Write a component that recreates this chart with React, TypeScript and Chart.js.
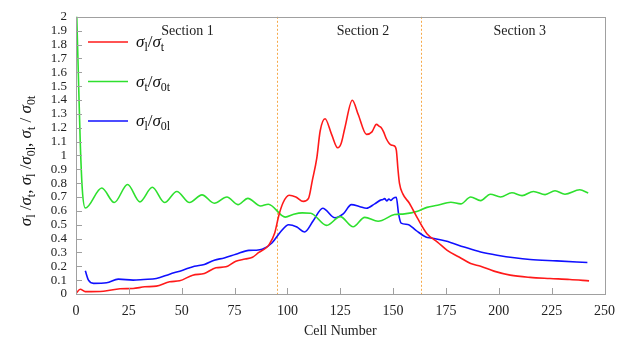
import React, { useEffect, useRef } from "react";
import { Chart, registerables } from "chart.js";

Chart.register(...registerables);

const redX = [0, 2, 4.4, 13, 20.8, 27, 32.5, 38, 44.3, 49, 55.2, 60.7, 66.2, 70.9, 75.6, 80, 83.5, 86.5, 89.7, 91.5, 94, 96, 98, 100.8, 104, 107.5, 110, 111.8, 113.9, 115.5, 117.8, 120.9, 123.8, 125.5, 127.2, 130.7, 133.5, 137.4, 140, 142.1, 143.5, 144.4, 145.5, 146.8, 148, 149.1, 150.3, 151.5, 152.3, 153, 154.6, 157.7, 161.6, 166, 171, 175.6, 181.2, 186.7, 191.4, 197.7, 205.4, 214.8, 224.2, 233.6, 242.7];
const redY = [0.005, 0.034, 0.017, 0.02, 0.038, 0.04, 0.052, 0.057, 0.088, 0.095, 0.136, 0.148, 0.189, 0.196, 0.237, 0.252, 0.265, 0.3, 0.33, 0.36, 0.44, 0.57, 0.66, 0.712, 0.7, 0.668, 0.69, 0.82, 0.98, 1.176, 1.264, 1.152, 1.055, 1.09, 1.2, 1.398, 1.295, 1.152, 1.17, 1.224, 1.21, 1.2, 1.17, 1.12, 1.09, 1.075, 1.07, 1.04, 0.9, 0.8, 0.722, 0.655, 0.545, 0.435, 0.375, 0.315, 0.267, 0.22, 0.2, 0.165, 0.136, 0.12, 0.112, 0.105, 0.095];

const greenX = [0, 1, 2, 3, 4.4, 12.2, 18.1, 24.4, 30.2, 36.1, 41.9, 47.7, 53.7, 59.6, 65.4, 71.4, 76.6, 81.3, 87.3, 91, 99, 103, 107, 111, 118.6, 125, 131.1, 136.6, 142.9, 150.7, 155.4, 161.6, 166, 171, 177.3, 182, 186.7, 191.4, 196, 200.8, 206.2, 211, 216.4, 221.9, 226.6, 231.3, 238.3, 242.3];
const greenY = [2.2, 1.65, 1.1, 0.75, 0.62, 0.765, 0.66, 0.79, 0.665, 0.77, 0.66, 0.74, 0.66, 0.715, 0.655, 0.7, 0.645, 0.69, 0.635, 0.648, 0.555, 0.575, 0.585, 0.583, 0.495, 0.558, 0.485, 0.553, 0.525, 0.573, 0.578, 0.597, 0.625, 0.64, 0.662, 0.65, 0.7, 0.674, 0.72, 0.7, 0.73, 0.71, 0.74, 0.717, 0.745, 0.72, 0.752, 0.729];

const blueX = [4.4, 5.9, 8.3, 14.5, 20, 27, 32, 38, 44.3, 50.5, 56, 60.7, 65.4, 70.1, 75.6, 81.8, 85, 88.1, 92.8, 96.7, 100.6, 104.5, 108.1, 112.3, 116.7, 122.5, 126.4, 130.3, 134.3, 137.4, 141.3, 144.4, 145, 146, 147, 148, 149, 150, 151.5, 152.6, 153.8, 156.9, 160.8, 165.5, 167.9, 174.9, 183.6, 191.4, 199.2, 214.8, 227.4, 241.9];
const blueY = [0.167, 0.1, 0.077, 0.081, 0.107, 0.1, 0.105, 0.112, 0.143, 0.172, 0.2, 0.213, 0.244, 0.26, 0.287, 0.315, 0.316, 0.322, 0.37, 0.447, 0.5, 0.483, 0.447, 0.53, 0.619, 0.55, 0.578, 0.645, 0.63, 0.619, 0.65, 0.679, 0.68, 0.688, 0.672, 0.685, 0.675, 0.69, 0.698, 0.578, 0.511, 0.502, 0.459, 0.411, 0.404, 0.382, 0.339, 0.303, 0.28, 0.249, 0.239, 0.227];

const sectionBounds = [95, 163];
const sectionLabels = ["Section 1", "Section 2", "Section 3"];
const sectionLabelX = [52.7, 135.8, 209.9];

const SERIF = "'Liberation Serif', 'DejaVu Serif', serif";
const RED = "#ff1a1a";
const GREEN = "#2ee02e";
const BLUE = "#1010ff";

type Part = [string, "i" | "s" | "n"];

function partFont(kind: string, size: number) {
  if (kind === "i") return `italic ${size}px ${SERIF}`;
  if (kind === "s") return `${Math.round(size * 0.68)}px ${SERIF}`;
  return `${size}px ${SERIF}`;
}

function measureRich(ctx: CanvasRenderingContext2D, parts: Part[], size: number) {
  let w = 0;
  for (const [t, k] of parts) {
    ctx.font = partFont(k, size);
    w += ctx.measureText(t).width;
  }
  return w;
}

function drawRich(ctx: CanvasRenderingContext2D, parts: Part[], x: number, y: number, size: number) {
  let cx = x;
  ctx.textAlign = "left";
  ctx.textBaseline = "alphabetic";
  for (const [t, k] of parts) {
    ctx.font = partFont(k, size);
    const dy = k === "s" ? size * 0.25 : 0;
    ctx.fillText(t, cx, y + dy);
    cx += ctx.measureText(t).width;
  }
}

const legendParts: Part[][] = [
  [["σ", "i"], ["l", "s"], ["/", "n"], ["σ", "i"], ["t", "s"]],
  [["σ", "i"], ["t", "s"], ["/", "n"], ["σ", "i"], ["0t", "s"]],
  [["σ", "i"], ["l", "s"], ["/", "n"], ["σ", "i"], ["0l", "s"]],
];
const yTitleParts: Part[] = [
  ["σ", "i"], ["l", "s"], [" /", "n"], ["σ", "i"], ["t", "s"], [", ", "n"],
  ["σ", "i"], ["l", "s"], [" /", "n"], ["σ", "i"], ["0l", "s"], [", ", "n"],
  ["σ", "i"], ["t", "s"], [" / ", "n"], ["σ", "i"], ["0t", "s"],
];

const overlay = {
  id: "overlay",
  beforeDatasetsDraw(chart: any) {
    const { ctx, chartArea, scales } = chart;
    ctx.save();
    ctx.strokeStyle = "#f7a948";
    ctx.lineWidth = 1;
    ctx.setLineDash([2, 2]);
    for (const b of sectionBounds) {
      const px = Math.round(scales.x.getPixelForValue(b)) + 0.5;
      ctx.beginPath();
      ctx.moveTo(px, chartArea.top);
      ctx.lineTo(px, chartArea.bottom);
      ctx.stroke();
    }
    ctx.restore();
  },
  afterDraw(chart: any) {
    const { ctx, chartArea, scales } = chart;
    const { left, right, top, bottom } = chartArea;
    ctx.save();
    ctx.strokeStyle = "#a0a0a0";
    ctx.lineWidth = 1;
    ctx.setLineDash([]);
    ctx.strokeRect(Math.round(left) + 0.5, Math.round(top) + 0.5, Math.round(right - left), Math.round(bottom - top));
    ctx.beginPath();
    for (const t of scales.y.ticks) {
      const py = Math.round(scales.y.getPixelForValue(t.value)) + 0.5;
      ctx.moveTo(left, py);
      ctx.lineTo(left + 6, py);
    }
    for (const t of scales.x.ticks) {
      const px = Math.round(scales.x.getPixelForValue(t.value)) + 0.5;
      ctx.moveTo(px, bottom);
      ctx.lineTo(px, bottom - 6);
    }
    ctx.stroke();
    ctx.fillStyle = "#222";
    ctx.font = `14px ${SERIF}`;
    ctx.textAlign = "center";
    ctx.textBaseline = "middle";
    sectionLabels.forEach((s, i) => {
      ctx.fillText(s, scales.x.getPixelForValue(sectionLabelX[i]), top + 15);
    });
    const colors = [RED, GREEN, BLUE];
    const ly = [42, 81.5, 121];
    colors.forEach((c, i) => {
      ctx.strokeStyle = c;
      ctx.lineWidth = 1.6;
      ctx.beginPath();
      ctx.moveTo(88, ly[i]);
      ctx.lineTo(128, ly[i]);
      ctx.stroke();
      ctx.fillStyle = "#111";
      drawRich(ctx, legendParts[i], 136, ly[i] + 5, 17);
    });
    ctx.fillStyle = "#222";
    ctx.font = `14px ${SERIF}`;
    ctx.textAlign = "center";
    ctx.textBaseline = "middle";
    ctx.fillText("Cell Number", (left + right) / 2, 331);
    const w = measureRich(ctx, yTitleParts, 17);
    ctx.translate(31, 161);
    ctx.rotate(-Math.PI / 2);
    ctx.fillStyle = "#111";
    drawRich(ctx, yTitleParts, -w / 2, 0, 17);
    ctx.restore();
  },
};

export default function App() {
  const ref = useRef<HTMLCanvasElement>(null);
  useEffect(() => {
    if (!ref.current) return;
    const mk = (xs: number[], ys: number[]) => xs.map((x, i) => ({ x, y: ys[i] }));
    const ds = (label: string, xs: number[], ys: number[], color: string) => ({
      label,
      data: mk(xs, ys),
      borderColor: color,
      backgroundColor: color,
      borderWidth: 1.6,
      pointRadius: 0,
      cubicInterpolationMode: "monotone" as const,
      fill: false,
    });
    const chart = new Chart(ref.current, {
      type: "line",
      data: {
        datasets: [
          ds("σl/σt", redX, redY, RED),
          ds("σt/σ0t", greenX, greenY, GREEN),
          ds("σl/σ0l", blueX, blueY, BLUE),
        ],
      },
      options: {
        responsive: false,
        animation: false,
        layout: { padding: { top: 15, right: 16, left: 0, bottom: 0 } },
        plugins: { legend: { display: false }, tooltip: { enabled: false } },
        scales: {
          x: {
            type: "linear",
            min: 0,
            max: 250,
            grid: { display: false, drawTicks: false },
            border: { display: false },
            ticks: { stepSize: 25, autoSkip: false, maxRotation: 0, padding: 9, color: "#222", font: { family: SERIF, size: 14 } },
            afterFit: (s: any) => { s.height = 49; },
          },
          y: {
            min: 0,
            max: 2,
            grid: { display: false, drawTicks: false },
            border: { display: false },
            ticks: {
              stepSize: 0.1,
              autoSkip: false,
              padding: 9,
              color: "#222",
              font: { family: SERIF, size: 13 },
              callback: (v: any) => String(Number(Number(v).toFixed(1))),
            },
            afterFit: (s: any) => { s.width = 76; },
          },
        },
      },
      plugins: [overlay],
    });
    return () => chart.destroy();
  }, []);
  return (
    <div style={{ position: "fixed", left: 0, top: 0, width: 624, height: 343, background: "#fff" }}>
      <canvas ref={ref} width={624} height={343} style={{ display: "block" }} />
    </div>
  );
}
